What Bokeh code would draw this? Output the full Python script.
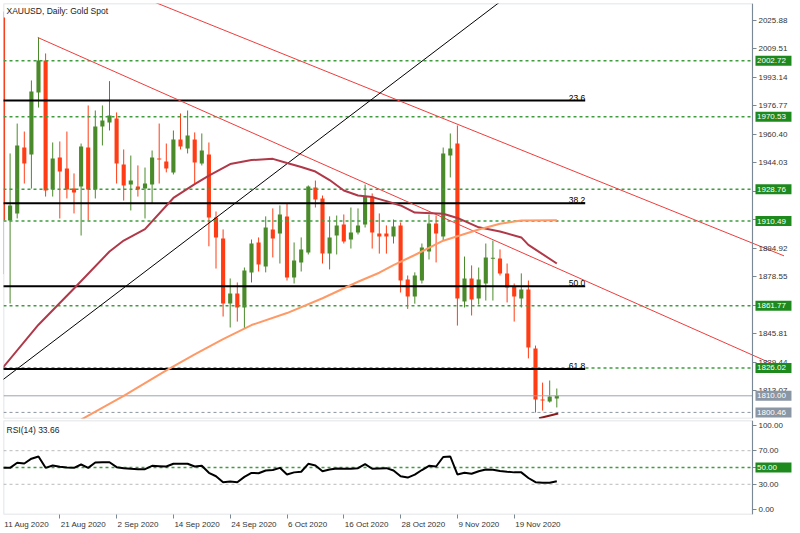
from bokeh.plotting import figure
from bokeh.models import (Range1d, FixedTicker, Label, ColumnDataSource,
                          PrintfTickFormatter, LinearAxis, BoxAnnotation)
from bokeh.layouts import column
from bokeh.embed import file_html
from bokeh.resources import INLINE
from bokeh.core.properties import value

FONT = "Liberation Sans"

# ---------------- data ----------------
opens = [2027.6, 1910.9, 1914.9, 1952.8, 1948.8, 1984.5, 2002.9, 1928.7, 1947.1, 1940.8,
         1929.2, 1930.4, 1952.8, 1928.7, 1964.9, 1967.2, 1969.5, 1943.1, 1931.5, 1930.4,
         1929.2, 1931.5, 1946.5, 1944.8, 1938.5, 1957.4, 1952.3, 1957.4, 1943.6, 1948.8,
         1912.6, 1900.5, 1863.1, 1868.8, 1860.8, 1880.9, 1898.2, 1884.4, 1905.7, 1903.4,
         1913.2, 1878.1, 1886.7, 1892.4, 1929.8, 1923.5, 1891.8, 1902.2, 1908.5, 1899.9,
         1903.9, 1908.5, 1924.6, 1903.4, 1903.4, 1901.6, 1908.0, 1876.9, 1867.1, 1876.3,
         1893.0, 1909.1, 1901.6, 1948.2, 1955.1, 1864.3, 1877.5, 1866.0, 1874.6, 1888.8,
         1889.0, 1880.4, 1872.9, 1866.0, 1871.1, 1837.2, 1807.9, 1806.7, 1808.4]
highs = [2031.0, 1949.4, 1966.6, 1962.0, 1991.4, 2016.1, 2006.9, 1955.7, 1956.3, 1962.0,
         1937.9, 1955.1, 1977.0, 1974.1, 1977.0, 1991.0, 1973.0, 1951.7, 1948.2, 1942.5,
         1941.3, 1951.1, 1966.6, 1955.1, 1962.6, 1972.4, 1974.1, 1961.5, 1960.9, 1955.7,
         1916.0, 1905.7, 1877.5, 1875.2, 1883.8, 1899.9, 1901.1, 1913.2, 1917.8, 1919.5,
         1920.6, 1898.2, 1901.1, 1931.0, 1933.8, 1925.2, 1913.2, 1913.7, 1914.3, 1918.3,
         1917.8, 1931.5, 1926.4, 1914.9, 1908.0, 1911.4, 1909.7, 1879.2, 1881.0, 1897.6,
         1914.3, 1913.7, 1952.8, 1960.9, 1965.5, 1890.1, 1885.0, 1883.8, 1897.6, 1899.3,
         1894.2, 1886.1, 1874.6, 1880.4, 1876.3, 1838.9, 1817.6, 1818.8, 1814.2]
lows = [1880.0, 1863.1, 1912.0, 1932.1, 1929.2, 1975.8, 1924.6, 1924.6, 1912.0, 1923.5,
        1914.9, 1902.2, 1910.9, 1923.5, 1954.0, 1962.6, 1932.1, 1922.3, 1916.6, 1924.6,
        1912.0, 1920.6, 1932.1, 1938.5, 1937.3, 1951.7, 1949.4, 1932.1, 1942.5, 1896.0,
        1883.2, 1855.6, 1849.3, 1852.7, 1848.7, 1875.2, 1881.5, 1881.0, 1889.6, 1886.1,
        1876.3, 1874.6, 1881.5, 1891.3, 1918.3, 1886.1, 1882.7, 1891.3, 1897.6, 1894.7,
        1902.8, 1906.8, 1894.7, 1891.8, 1891.8, 1897.6, 1869.4, 1860.0, 1863.0, 1874.6,
        1888.4, 1886.7, 1899.3, 1935.6, 1850.4, 1860.8, 1856.2, 1862.5, 1864.8, 1864.8,
        1879.2, 1863.7, 1852.7, 1860.8, 1831.5, 1800.4, 1801.5, 1806.1, 1803.3]
closes = [1910.9, 1919.5, 1954.0, 1943.6, 1985.0, 2002.9, 1928.1, 1946.5, 1939.0, 1928.7,
          1926.9, 1953.4, 1928.7, 1964.9, 1968.4, 1971.2, 1943.6, 1931.0, 1933.8, 1928.7,
          1932.1, 1947.1, 1945.9, 1940.8, 1957.4, 1953.4, 1959.7, 1944.2, 1951.1, 1912.6,
          1901.1, 1863.1, 1868.8, 1860.8, 1882.1, 1897.6, 1885.5, 1906.8, 1900.5, 1914.3,
          1878.1, 1887.8, 1894.2, 1930.4, 1922.9, 1891.8, 1901.1, 1908.0, 1898.8, 1903.9,
          1908.0, 1924.6, 1903.9, 1901.6, 1901.6, 1907.4, 1876.3, 1867.1, 1879.2, 1895.3,
          1909.1, 1903.4, 1949.4, 1952.3, 1866.0, 1877.5, 1865.4, 1876.9, 1889.6, 1889.4,
          1880.4, 1872.3, 1867.1, 1871.1, 1837.8, 1807.9, 1807.3, 1809.6, 1810.0]

rsi = [49.6, 49.6, 55.6, 54.8, 60.5, 63.1, 49.6, 52.4, 50.8, 50.0,
       49.6, 53.6, 49.6, 56.0, 56.3, 56.3, 50.4, 49.2, 48.5, 48.0,
       48.0, 52.0, 51.6, 51.2, 54.4, 54.4, 54.4, 51.2, 52.0, 43.7,
       39.6, 32.5, 33.3, 32.5, 38.8, 43.5, 43.2, 46.4, 47.0, 49.6,
       41.7, 44.2, 44.9, 54.4, 52.5, 45.6, 47.5, 48.9, 48.5, 48.5,
       49.2, 54.0, 48.5, 48.9, 49.2, 46.5, 39.5, 38.0, 41.5, 47.0,
       52.0, 51.2, 62.5, 63.1, 41.7, 43.7, 42.5, 45.5, 47.6, 47.3,
       45.8, 44.9, 44.2, 44.2, 37.5, 32.5, 31.8, 31.8, 33.66]

ma_red_idx = [0, 5, 10, 15, 17, 20, 24, 27, 29, 32, 35, 38, 40, 42, 44, 46, 48, 50, 52,
              54, 56, 58, 62, 64, 67, 70, 73, 74, 78]
ma_red_val = [1826.3, 1850.9, 1871.7, 1893.0, 1899.3, 1905.9, 1923.8, 1931.8, 1936.7, 1943.3,
              1945.6, 1946.3, 1943.9, 1941.6, 1939.0, 1934.1, 1928.1, 1925.2, 1924.3,
              1922.0, 1919.5, 1915.4, 1914.7, 1912.3, 1906.9, 1904.5, 1901.1, 1896.8, 1886.1]

ma_org_idx = [11, 12, 17, 23, 27, 31, 35, 40, 45, 50, 53, 55, 58, 62, 67, 70, 73, 78]
ma_org_val = [1796.3, 1798.6, 1810.0, 1824.6, 1833.8, 1842.6, 1850.7, 1857.6, 1866.1, 1875.6,
              1880.8, 1885.2, 1891.0, 1899.2, 1905.7, 1909.0, 1910.9, 1911.0]

trend_red1_x = [10, 110]
trend_red1_y = [2055.1, 1890.5]
trend_red2_x = [4.9, 110]
trend_red2_y = [2016.1, 1825.4]
trend_black_x = [-1, 72]
trend_black_y = [1816.2, 2042.8]
trend_dark_x = [75.5, 78.2]
trend_dark_y = [1797.1, 1799.8]

fib_levels = [1979.8, 1920.8, 1873.0, 1825.4]
fib_labels = ["23.6", "38.2", "50.0", "61.8"]
fib_start = -3
fib_end = 82.0

green_levels = [2002.72, 1970.53, 1928.76, 1910.49, 1861.77, 1826.02]
gray_levels = [1810.00, 1800.46]

price_ticks = [2025.88, 2009.51, 1993.14, 1976.77, 1960.40, 1944.03, 1927.66, 1911.29,
               1894.92, 1878.55, 1862.18, 1845.81, 1829.44, 1813.07]
rsi_ticks = [0, 30, 50, 70, 100]
rsi_green_levels = [50]
rsi_gray_levels = [70, 30]

date_ticks = [0, 8, 16, 24, 32, 40, 48, 56, 64, 72]
date_labels = ["11 Aug 2020", "21 Aug 2020", "2 Sep 2020", "14 Sep 2020", "24 Sep 2020",
               "6 Oct 2020", "16 Oct 2020", "28 Oct 2020", "9 Nov 2020", "19 Nov 2020"]

# ---------------- layout constants ----------------
PX_PER_BAR = 7.1           # horizontal pixels per bar
X0 = 0.07                  # bar index at left edge of frame
AXIS_X = 105.56            # bar index where the price scale begins
X1 = X0 + 797 / PX_PER_BAR # bar index at right edge of frame (canvas edge)

UP = "#4A8A2A"
DOWN = "#FF3C14"
FRAME = "#7A8794"
GREEN_LINE = "#3E9E3E"
GREEN_BOX = "#1E8A1E"
GRAY_BOX = "#8A96A3"

x_range = Range1d(X0, X1)
y_range = Range1d(1796.95, 2035.65)

# approximate Liberation Sans advance widths (em)
CW = {c: 0.556 for c in "0123456789"}
CW.update({" ": 0.278, "A": 0.667, "S": 0.667, "O": 0.778, "N": 0.722, "u": 0.556, "g": 0.556,
           "e": 0.556, "p": 0.556, "c": 0.5, "t": 0.278, "o": 0.556, "v": 0.5, ".": 0.278})


def text_w(s, size=8.0):
    return sum(CW.get(c, 0.556) for c in s) * size


def style_axis(ax):
    ax.axis_line_color = FRAME
    ax.major_tick_line_color = FRAME
    ax.minor_tick_line_color = None
    ax.major_tick_in = 0
    ax.major_tick_out = 4
    ax.major_label_standoff = 2
    ax.major_label_text_font = FONT
    ax.major_label_text_font_size = "8px"
    ax.major_label_text_color = "#333333"


def price_boxes(p, levels, colour, fmt):
    bx = AXIS_X + 21 / PX_PER_BAR
    p.rect(x=[bx] * len(levels), y=levels, width=36, height=10, width_units="screen",
           height_units="screen", fill_color=colour, line_color=None, level="overlay")
    p.text(x=[AXIS_X + 4.5 / PX_PER_BAR] * len(levels), y=levels,
           text=[fmt % v for v in levels], text_align="left", text_baseline="middle",
           text_font=value(FONT), text_font_size="8px", text_color="white", level="overlay")


# ---------------- main pane ----------------
p1 = figure(width=800, height=419, x_range=x_range, y_range=y_range,
            output_backend="svg", toolbar_location=None,
            x_axis_location=None, y_axis_location="right",
            min_border_left=3, min_border_right=0, min_border_top=3, min_border_bottom=1)
p1.grid.visible = False
p1.outline_line_color = None
ay = p1.yaxis[0]
ay.fixed_location = AXIS_X
ay.ticker = FixedTicker(ticks=price_ticks)
ay.formatter = PrintfTickFormatter(format="%.2f")
style_axis(ay)
p1.add_layout(BoxAnnotation(left=X0, right=AXIS_X, bottom=y_range.start, top=y_range.end,
                            fill_color=None, line_color=FRAME, line_width=1.5))

idx = list(range(len(opens)))
up = dict(x=[], lo=[], hi=[], top=[], bot=[])
dn = dict(x=[], lo=[], hi=[], top=[], bot=[])
for i, o, h, l, c in zip(idx, opens, highs, lows, closes):
    d = up if c >= o else dn
    d["x"].append(i)
    d["lo"].append(l)
    d["hi"].append(h)
    d["top"].append(max(o, c))
    d["bot"].append(min(o, c))

for d, col in ((up, UP), (dn, DOWN)):
    src = ColumnDataSource(d)
    p1.segment(x0="x", y0="lo", x1="x", y1="hi", source=src, line_color=col, line_width=1)
    p1.vbar(x="x", width=0.58, top="top", bottom="bot", source=src,
            fill_color=col, line_color=None)

# horizontal levels (drawn up to the price scale)
n = len(green_levels)
p1.segment(x0=[X0] * n, x1=[AXIS_X] * n, y0=green_levels, y1=green_levels,
           line_color=GREEN_LINE, line_dash="3 3", line_width=1.5)
p1.segment(x0=[X0], x1=[AXIS_X], y0=[gray_levels[0]], y1=[gray_levels[0]],
           line_color="#9AA4AF", line_width=1)
p1.segment(x0=[X0], x1=[AXIS_X], y0=[gray_levels[1]], y1=[gray_levels[1]],
           line_color="#8A94A0", line_dash="3 3", line_width=1)

# fibonacci
nf = len(fib_levels)
p1.segment(x0=[fib_start] * nf, x1=[fib_end] * nf, y0=fib_levels, y1=fib_levels,
           line_color="black", line_width=2)
p1.text(x=[fib_end] * nf, y=fib_levels, text=fib_labels,
        text_align="right", text_baseline="bottom", text_font=value(FONT),
        text_font_size="8.5px", text_color="black")

# trend lines
p1.line(trend_red1_x, trend_red1_y, line_color="#F03C3C", line_width=1)
p1.line(trend_red2_x, trend_red2_y, line_color="#F03C3C", line_width=1)
p1.line(trend_black_x, trend_black_y, line_color="black", line_width=1)
p1.line(trend_dark_x, trend_dark_y, line_color="#8B1A1A", line_width=2)

# moving averages
p1.line(ma_red_idx, ma_red_val, line_color="#B03848", line_width=2)
p1.line(ma_org_idx, ma_org_val, line_color="#FF9966", line_width=2)

# title
p1.add_layout(Label(x=X0, y=y_range.end, x_offset=3, y_offset=-2,
                    text="XAUUSD, Daily:  Gold Spot", text_baseline="top",
                    text_font=FONT, text_font_size="8.5px", text_color="#222222"))

price_boxes(p1, green_levels, GREEN_BOX, "%.2f")
price_boxes(p1, gray_levels, GRAY_BOX, "%.2f")

# ---------------- RSI pane ----------------
r_range = Range1d(-5.95, 105.95)
p2 = figure(width=800, height=114, x_range=x_range, y_range=r_range,
            output_backend="svg", toolbar_location=None, y_axis_location="right",
            min_border_left=3, min_border_right=0, min_border_top=1, min_border_bottom=19)
p2.grid.visible = False
p2.outline_line_color = None
ry = p2.yaxis[0]
ry.fixed_location = AXIS_X
ry.ticker = FixedTicker(ticks=rsi_ticks)
ry.formatter = PrintfTickFormatter(format="%.2f")
style_axis(ry)
p2.add_layout(BoxAnnotation(left=X0, right=AXIS_X, bottom=r_range.start, top=r_range.end,
                            fill_color=None, line_color=FRAME, line_width=1.5))

# date axis: tick marks at the dates (no labels), labels starting at each tick
ax = p2.xaxis[0]
ax.ticker = FixedTicker(ticks=date_ticks)
style_axis(ax)
ax.axis_line_color = None
ax.major_label_text_font_size = "1px"
ax.major_label_text_color = None
ax.major_label_standoff = 0
label_pos = [round(t + (text_w(s) / 2 + 1) / PX_PER_BAR, 3) for t, s in zip(date_ticks, date_labels)]
ax2 = LinearAxis(ticker=FixedTicker(ticks=label_pos),
                 major_label_overrides={pos: s for pos, s in zip(label_pos, date_labels)})
style_axis(ax2)
ax2.axis_line_color = None
ax2.major_tick_line_color = None
ax2.major_tick_out = 0
ax2.major_label_standoff = 1
p2.add_layout(ax2, "below")

p2.segment(x0=[X0] * 2, x1=[AXIS_X] * 2, y0=rsi_gray_levels, y1=rsi_gray_levels,
           line_color="#BBBBBB", line_dash="3 3", line_width=1)
p2.segment(x0=[X0], x1=[AXIS_X], y0=rsi_green_levels, y1=rsi_green_levels,
           line_color=GREEN_LINE, line_dash="3 3", line_width=1.5)
p2.line(idx, rsi, line_color="black", line_width=2)
p2.add_layout(Label(x=X0, y=r_range.end, x_offset=3, y_offset=-4,
                    text="RSI(14) %.2f" % rsi[-1], text_baseline="top",
                    text_font=FONT, text_font_size="8.5px", text_color="#222222"))
price_boxes(p2, rsi_green_levels, GREEN_BOX, "%.2f")

layout = column(p1, p2)
open("out.html", "w").write(file_html(layout, INLINE))
